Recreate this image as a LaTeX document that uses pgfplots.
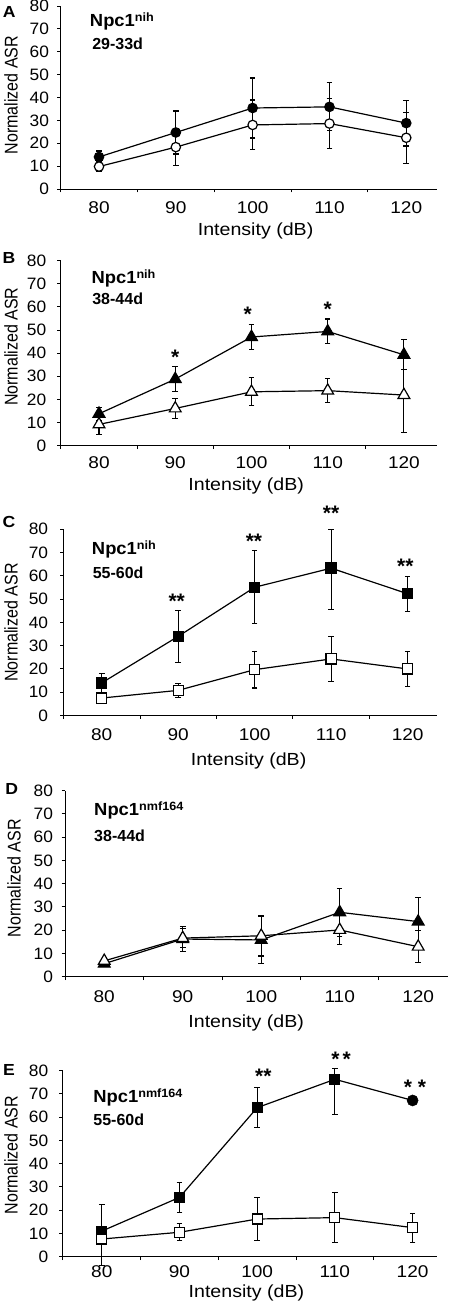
\documentclass[border=0pt]{standalone}
\usepackage{fontspec}
\setmainfont{Liberation Sans}
\usepackage{pgfplots}
\usepackage{pgfplotstable}
\pgfplotsset{compat=1.18}

% Panel A (circles)
\pgfplotstableread{
x y ep em
0 14.0 2.6 2.6
1 24.7 9.4 9.4
2 35.4 13.1 13.1
3 35.9 10.5 10.5
4 28.8 10.0 10.0
}\Afill
\pgfplotstableread{
x y ep em
0 9.8 2.1 2.1
1 18.3 8.2 8.2
2 28.0 10.9 10.9
3 28.6 10.9 10.9
4 22.4 11.1 11.1
}\Aopen
% Panel B (triangles)
\pgfplotstableread{
x y ep em
0 13.8 2.9 2.9
1 28.8 5.3 5.3
2 47.0 5.3 5.3
3 49.4 5.4 5.4
4 39.3 6.5 6.5
}\Bfill
\pgfplotstableread{
x y ep em
0 9.2 4.3 4.3
1 16.1 4.3 4.3
2 23.3 6.0 6.0
3 23.8 5.2 5.2
4 21.9 16.3 16.3
}\Bopen
% Panel C (squares)
\pgfplotstableread{
x y ep em
0 14.0 4.2 4.2
1 34.0 11.2 11.2
2 55.1 15.7 15.7
3 63.3 16.7 17.6
4 52.3 7.5 7.5
}\Cfill
\pgfplotstableread{
x y ep em
0 7.5 2.2 2.2
1 10.8 3.1 3.1
2 19.7 7.9 7.9
3 24.3 9.6 9.6
4 20.0 7.5 7.5
}\Copen
% Panel D (triangles)
\pgfplotstableread{
x y ep em
0 5.6 1.0 1.0
1 16.2 5.5 5.5
2 15.8 10.3 10.3
3 27.7 10.3 10.3
4 23.7 10.4 10.4
}\Dfill
\pgfplotstableread{
x y ep em
0 6.8 1.0 1.0
1 16.6 4.0 4.0
2 17.6 8.7 8.7
3 20.1 6.2 6.2
4 12.9 6.8 6.8
}\Dopen
% Panel E (squares)
\pgfplotstableread{
x y ep em
0 11.0 11.3 11.0
1 25.5 6.4 6.4
2 64.1 8.6 8.6
3 76.3 4.7 15.1
4 67.2 1.5 1.5
}\Efill
\pgfplotstableread{
x y ep em
0 7.6 3.0 11.5
1 10.5 3.6 3.6
2 16.2 9.4 9.4
3 16.8 10.8 10.8
4 12.5 6.2 6.2
}\Eopen

\newcommand{\sx}[2]{\scalebox{#1}[1]{#2}}
\newcommand{\tx}[1]{\sx{1.12}{#1}}
\newcommand{\ty}[1]{\sx{1.05}{#1}}

\pgfplotsset{
 panel/.style={
   scale only axis, anchor=south west, clip=false,
   xmin=-0.5, ymin=0, ymax=80,
   axis lines*=left, axis line style={line width=0.9pt, -},
   tick align=outside, major tick length=3.5pt,
   every tick/.style={black, line width=0.9pt},
   xtick={-0.5,0.5,1.5,2.5,3.5}, xticklabels={},
   extra x ticks={0,1,2,3,4},
   extra x tick labels={\tx{80},\tx{90},\tx{100},\tx{110},\tx{120}},
   extra x tick style={major tick length=0pt},
   ytick={0,10,...,80},
   yticklabels={\ty{0},\ty{10},\ty{20},\ty{30},\ty{40},\ty{50},\ty{60},\ty{70},\ty{80}},
   yticklabel style={font=\fontsize{16.5}{16.5}\selectfont, inner sep=0pt, anchor=east},
   xticklabel style={font=\fontsize{17}{17}\selectfont, inner sep=0pt, anchor=north},
   xlabel={\sx{1.12}{Intensity (dB)}},
   xlabel style={font=\fontsize{17.5}{17.5}\selectfont, anchor=center, inner sep=0pt},
 },
 ser/.style={black, line width=1.2pt, mark options={line width=0.8pt, solid, draw=black}},
 eb/.style={error bars/y dir=both, error bars/y explicit,
   error bars/error bar style={line width=1.1pt, black},
   error bars/error mark options={rotate=90, mark size=2.8pt, line width=1.1pt, black}},
}
\tikzset{
 ttl/.style={anchor=base west, inner sep=0pt, font=\fontsize{17.5}{17.5}\selectfont\bfseries},
 dte/.style={anchor=base west, inner sep=0pt, font=\fontsize{16}{16}\selectfont\bfseries},
 ast/.style={anchor=north, inner sep=0pt, font=\fontsize{21}{21}\selectfont\bfseries},
 ylab/.style={rotate=90, inner sep=0pt, font=\fontsize{16}{16}\selectfont},
 let/.style={inner sep=0pt, font=\fontsize{16}{16}\selectfont\bfseries},
}
\newcommand{\sups}[1]{\raisebox{5pt}{\fontsize{12}{12}\selectfont #1}}
\newcommand{\ylabtext}{\scalebox{1}[1.15]{Normalized ASR}}

\begin{document}
\begin{tikzpicture}
\useasboundingbox (0pt,0pt) rectangle (449pt,1302pt);

% ---------- A ----------
\begin{axis}[panel, at={(60.6pt,1113pt)}, width=376.4pt, height=183pt, xmax=4.40,
  xticklabel style={yshift=-12.2pt}, yticklabel style={xshift=-8pt},
  xlabel style={at={(axis description cs:0.518,0)}, yshift=-42pt}]
\addplot[ser, eb, mark=*, mark size=4.7pt, mark options={fill=black}]
  table[x=x, y=y, y error plus=ep, y error minus=em] {\Afill};
\addplot[ser, eb, mark=*, mark size=4.7pt, mark options={fill=white}]
  table[x=x, y=y, y error plus=ep, y error minus=em] {\Aopen};
\node[ttl] at (axis cs:-0.12,71.0) {\sx{1.05}{Npc1\sups{nih}}};
\node[dte] at (axis cs:-0.09,60.9) {29-33d};
\end{axis}

% ---------- B ----------
\begin{axis}[panel, at={(60.9pt,856.3pt)}, width=375.8pt, height=185pt, xmax=4.43,
  extra x tick labels={\tx{80},\tx{90},\tx{100},\tx{110},\raisebox{-7pt}{\tx{120}}},
  xticklabel style={yshift=-11.2pt}, yticklabel style={xshift=-11pt},
  xlabel style={at={(axis description cs:0.493,0)}, yshift=-40.3pt}]
\addplot[ser, eb, mark=triangle*, mark size=6.8pt, mark options={fill=black}]
  table[x=x, y=y, y error plus=ep, y error minus=em] {\Bfill};
\addplot[ser, eb, mark=triangle*, mark size=6.8pt, mark options={fill=white}]
  table[x=x, y=y, y error plus=ep, y error minus=em] {\Bopen};
\node[ttl] at (axis cs:-0.10,70.3) {\sx{1.05}{Npc1\sups{nih}}};
\node[dte] at (axis cs:-0.09,60.9) {38-44d};
\node[ast] at (axis cs:1,41.4) {*};
\node[ast] at (axis cs:1.95,60.2) {*};
\node[ast] at (axis cs:3,62.3) {*};
\end{axis}

% ---------- C ----------
\begin{axis}[panel, at={(63.5pt,586.5pt)}, width=373.2pt, height=186.2pt, xmax=4.38,
  xticklabel style={yshift=-13.2pt}, yticklabel style={xshift=-11.7pt},
  xlabel style={at={(axis description cs:0.496,0)}, yshift=-45.7pt}]
\addplot[ser, eb, mark=square*, mark size=5.1pt, mark options={fill=black}]
  table[x=x, y=y, y error plus=ep, y error minus=em] {\Cfill};
\addplot[ser, eb, mark=square*, mark size=5.1pt, mark options={fill=white}]
  table[x=x, y=y, y error plus=ep, y error minus=em] {\Copen};
\node[ttl] at (axis cs:-0.13,69.0) {\sx{1.05}{Npc1\sups{nih}}};
\node[dte] at (axis cs:-0.12,59.0) {55-60d};
\node[ast] at (axis cs:0.98,52.2) {**};
\node[ast] at (axis cs:1.99,77.9) {**};
\node[ast] at (axis cs:3,90) {**};
\node[ast] at (axis cs:3.97,67.2) {**};
\end{axis}

% ---------- D ----------
\begin{axis}[panel, at={(65pt,325.3pt)}, width=383pt, height=186pt, xmax=4.38,
  xticklabel style={yshift=-14.2pt}, yticklabel style={xshift=-8.3pt},
  xlabel style={at={(axis description cs:0.473,0)}, yshift=-46.6pt}]
\addplot[ser, eb, mark=triangle*, mark size=6.8pt, mark options={fill=black}]
  table[x=x, y=y, y error plus=ep, y error minus=em] {\Dfill};
\addplot[ser, eb, mark=triangle*, mark size=6.8pt, mark options={fill=white}]
  table[x=x, y=y, y error plus=ep, y error minus=em] {\Dopen};
\node[ttl] at (axis cs:-0.13,69.5) {\sx{1.05}{Npc1\sups{nmf164}}};
\node[dte] at (axis cs:-0.13,58.1) {38-44d};
\end{axis}

% ---------- E ----------
\begin{axis}[panel, at={(62.9pt,45.3pt)}, width=373.8pt, height=186pt, xmax=4.31,
  xticklabel style={yshift=-9.2pt}, yticklabel style={xshift=-11pt},
  xlabel style={at={(axis description cs:0.491,0)}, yshift=-36.6pt}]
\addplot[ser, eb, mark=square*, mark size=5pt, mark options={fill=black}, mark indices={1,2,3,4}]
  table[x=x, y=y, y error plus=ep, y error minus=em] {\Efill};
\addplot[only marks, mark=*, mark size=5.6pt, mark options={fill=black, draw=black}, mark indices={5}]
  table[x=x, y=y] {\Efill};
\addplot[ser, eb, mark=square*, mark size=5pt, mark options={fill=white}]
  table[x=x, y=y, y error plus=ep, y error minus=em] {\Eopen};
\node[ttl] at (axis cs:-0.11,66.2) {\sx{1.05}{Npc1\sups{nmf164}}};
\node[dte] at (axis cs:-0.11,56.5) {55-60d};
\node[ast] at (axis cs:2.08,80.6) {**};
\node[ast] at (axis cs:3.08,88.2) {*\kern3pt*};
\node[ast] at (axis cs:4.03,76.0) {*\kern6pt*};
\end{axis}

% y labels and panel letters
\node[ylab] at (11pt,1207pt) {\ylabtext};
\node[ylab] at (11pt,955.3pt) {\ylabtext};
\node[ylab] at (11pt,679.5pt) {\ylabtext};
\node[ylab] at (14pt,423.7pt) {\ylabtext};
\node[ylab] at (11pt,147pt) {\ylabtext};
\node[let] at (9.2pt,1290pt) {\sx{1.1}{A}};
\node[let] at (9pt,1044pt) {\sx{1.1}{B}};
\node[let] at (9pt,780.3pt) {\sx{1.1}{C}};
\node[let] at (11.7pt,513pt) {\sx{1.1}{D}};
\node[let] at (9pt,232pt) {\sx{1.1}{E}};
\end{tikzpicture}
\end{document}
